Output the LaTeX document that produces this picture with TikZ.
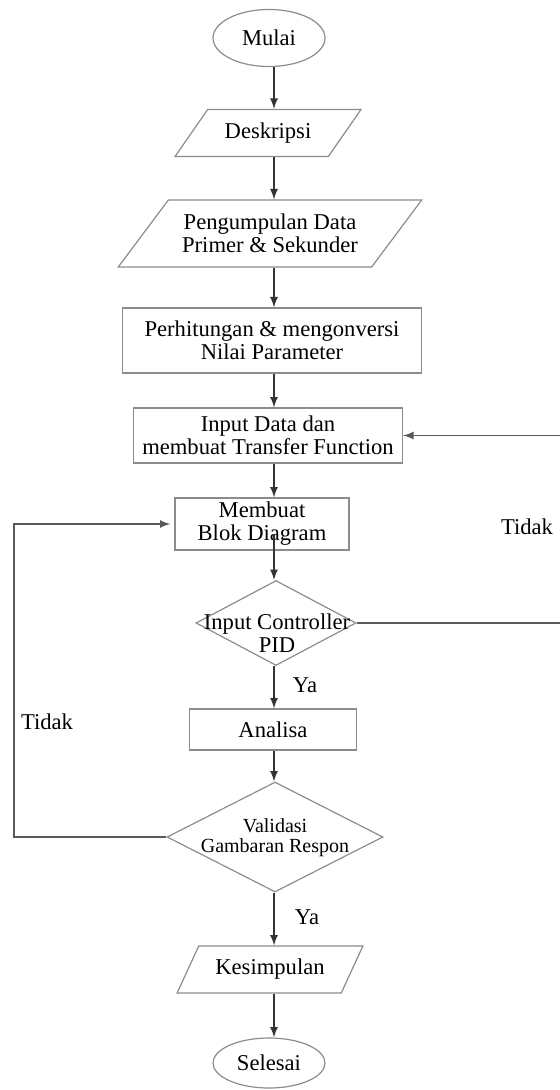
\documentclass[tikz,border=0pt]{standalone}
\usepackage{fontspec}
\setmainfont{Liberation Serif}
\usetikzlibrary{shapes.geometric,arrows,positioning,calc}

\tikzset{
  box/.style={draw=black!45, line width=0.6pt, rectangle, inner sep=2pt, align=center},
  terminal/.style={draw=black!45, line width=0.6pt, ellipse, inner sep=0pt, minimum width=56pt},
  io/.style={draw=black!45, line width=0.6pt, trapezium, trapezium stretches=true, inner sep=2pt, align=center},
  decision/.style={draw=black!45, line width=0.6pt, diamond, inner sep=0pt},
  flow/.style={-latex, draw=black!80, line width=0.8pt},
  back/.style={-latex, draw=black!65, line width=0.8pt},
  lbl/.style={inner sep=0pt, align=center}
}

\begin{document}
\begin{tikzpicture}[x=0.5pt, y=-0.5pt, font=\fontsize{11.3}{11.5}\selectfont]
\useasboundingbox (0,0) rectangle (560,1090);

% main column
\node[terminal, minimum height=28.5pt] (mulai) at (269,38) {Mulai};
\node[io, trapezium left angle=48, trapezium right angle=132,
      minimum width=93pt, minimum height=23.5pt] (desk) at (268,133) {Deskripsi};
\node[io, trapezium left angle=46, trapezium right angle=134,
      minimum width=152pt, minimum height=33.5pt] (peng) at (270,233.5) {Pengumpulan Data\\Primer \& Sekunder};
\node[box, minimum width=149.5pt, minimum height=32.5pt] (hitung) at (272,340.5) {Perhitungan \& mengonversi\\Nilai Parameter};
\node[box, minimum width=134.5pt, minimum height=27.5pt] (input) at (268,435.5) {Input Data dan\\membuat Transfer Function};
\node[box, minimum width=87pt, minimum height=26pt] (blok) at (262,524) {Membuat\\Blok Diagram};
\node[decision, minimum width=80pt, minimum height=42.5pt] (pid) at (276,623) {};
\node[lbl] (pidtxt) at (277,633) {Input Controller\\PID};
\node[box, minimum width=83.5pt, minimum height=20.5pt] (analisa) at (273,729.5) {Analisa};
\node[decision, minimum width=108pt, minimum height=55pt] (valid) at (275,837) {};
\node[lbl, font=\fontsize{10}{10}\selectfont] (validtxt) at (275,838) {Validasi\\Gambaran Respon};
\node[io, trapezium left angle=58, trapezium right angle=122,
      minimum width=93.5pt, minimum height=23.5pt] (kes) at (270,969.5) {Kesimpulan};
\node[terminal, minimum height=25pt] (selesai) at (269,1063) {Selesai};

% labels
\node[lbl] (tidakkanan) at (527,527) {Tidak};
\node[lbl] (tidakkiri) at (47,722) {Tidak};
\node[lbl] (ya1) at (305,685) {Ya};
\node[lbl] (ya2) at (307,917) {Ya};

% arrows
\coordinate (axis) at (274,0);
\draw[flow] (axis |- mulai.south) -- (axis |- desk.north);
\draw[flow] (axis |- desk.south) -- (axis |- peng.north);
\draw[flow] (axis |- peng.south) -- (axis |- hitung.north);
\draw[flow] (axis |- hitung.south) -- (axis |- input.north);
\draw[flow] (axis |- input.south) -- (axis |- blok.north);
\draw[flow] ($(axis |- blok.south)+(0,-17)$) -- (axis |- pid.north);
\draw[flow] (axis |- pid.south) -- (axis |- analisa.north);
\draw[flow] (axis |- analisa.south) -- (axis |- valid.north);
\draw[flow] (axis |- valid.south) -- (axis |- kes.north);
\draw[flow] (axis |- kes.south) -- (axis |- selesai.north);

% loops back
\coordinate (kanan) at (564,0);
\coordinate (kiri) at (14,0);
\draw[back] (pid.east) -| (kanan |- input.east) -- (input.east);
\draw[back, shorten >=2pt] (valid.west) -| (kiri |- blok.west) -- (blok.west);
\end{tikzpicture}
\end{document}
